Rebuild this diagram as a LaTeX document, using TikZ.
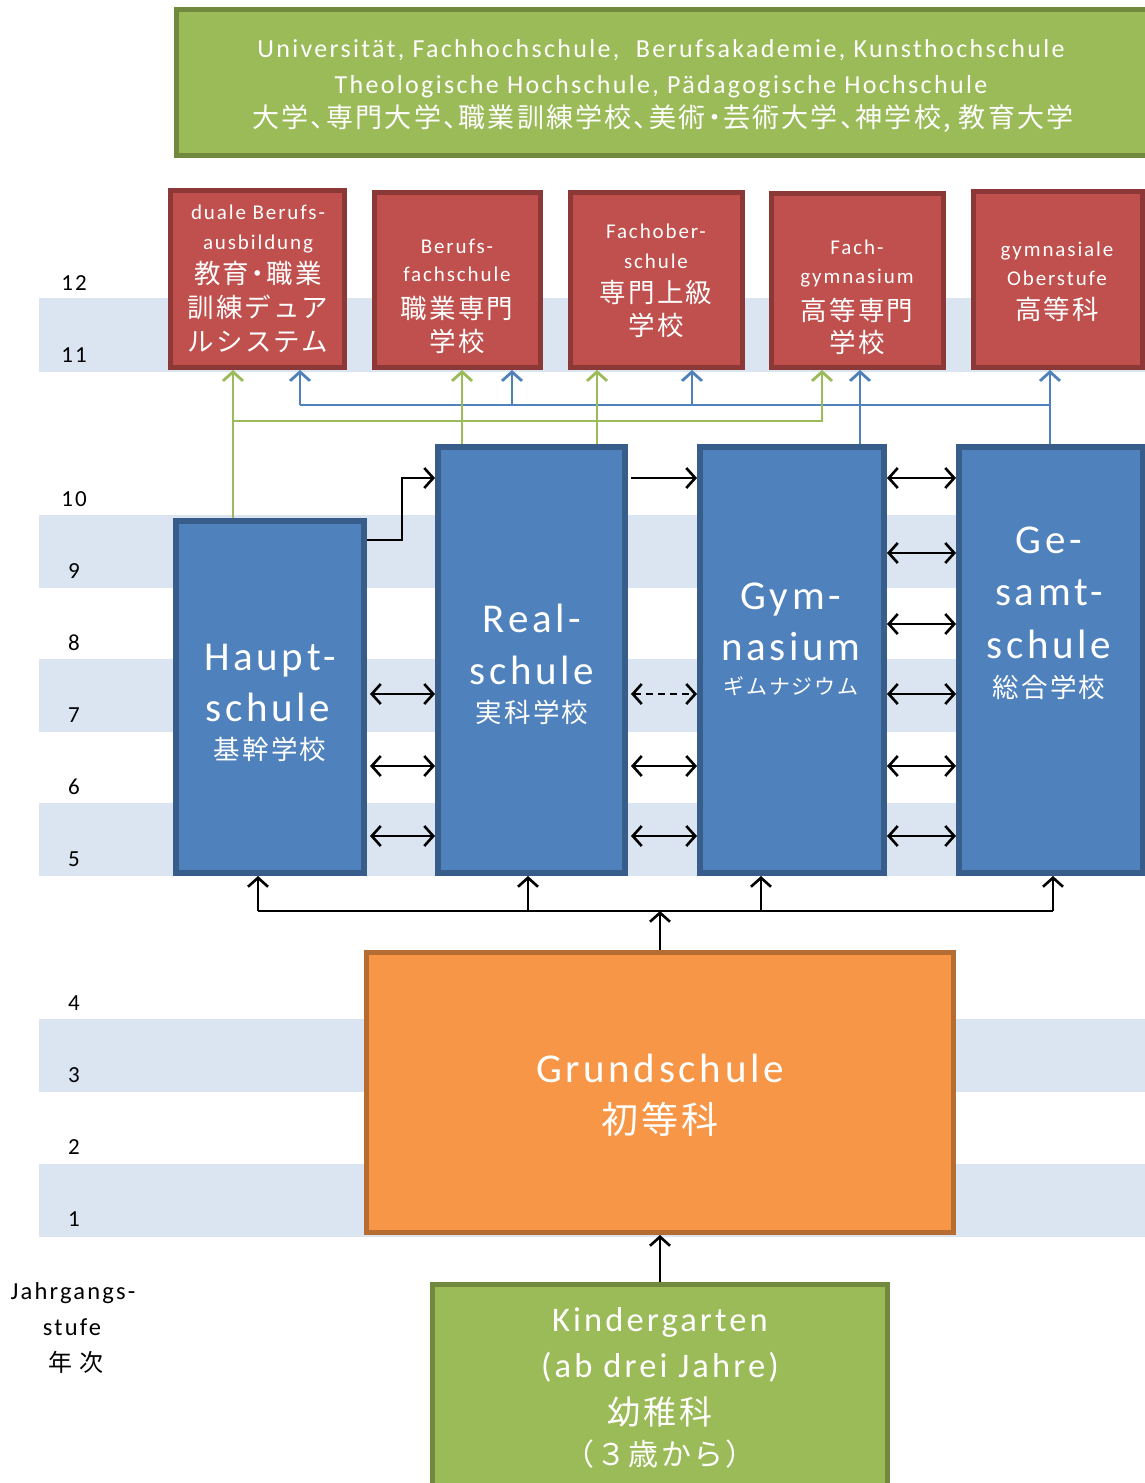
\documentclass[tikz,border=0pt]{standalone}
\usepackage{fontspec}
\setmainfont{Carlito}[LetterSpace=9]
\newfontfamily\jp{Noto Sans CJK JP}[LetterSpace=8]
\newfontfamily\jph{Noto Sans CJK JP}[LetterSpace=8,RawFeature={+halt}]
\usetikzlibrary{arrows.meta}
\definecolor{stripe}{HTML}{DBE5F1}
\definecolor{gfill}{HTML}{9BBB59}
\definecolor{gdraw}{HTML}{71893F}
\definecolor{rfill}{HTML}{C0504D}
\definecolor{rdraw}{HTML}{8C3836}
\definecolor{bfill}{HTML}{4F81BD}
\definecolor{bdraw}{HTML}{385D8A}
\definecolor{ofill}{HTML}{F79646}
\definecolor{odraw}{HTML}{B66D31}
\newcommand{\fsz}[1]{\fontsize{#1}{#1}\selectfont}
\begin{document}
\begin{tikzpicture}[x=1pt,y=-1pt,
  gbox/.style={draw=gdraw,fill=gfill,line width=5pt,inner sep=0pt,rectangle},
  rbox/.style={draw=rdraw,fill=rfill,line width=5pt,inner sep=0pt,rectangle},
  bbox/.style={draw=bdraw,fill=bfill,line width=6pt,inner sep=0pt,rectangle},
  obox/.style={draw=odraw,fill=ofill,line width=5pt,inner sep=0pt,rectangle},
  wt/.style={text=white,anchor=base,inner sep=0pt},
  kt/.style={text=black,anchor=base,inner sep=0pt},
  arr/.style={-{Straight Barb[length=9pt,width=20pt]}},
  darr/.style={{Straight Barb[length=9pt,width=20pt]}-{Straight Barb[length=9pt,width=20pt]}},
  kline/.style={draw=black,line width=2.6pt},
  gline/.style={draw=gfill,line width=2.8pt},
  bline/.style={draw=bfill,line width=2.8pt}]
\clip (0,0) rectangle (1145,1483);
\fill[white] (0,0) rectangle (1145,1483);
% stripes
\foreach \a/\b in {298/372,515/588,659/732,803/876,1019/1092,1164/1237}
  \fill[stripe] (39,\a) rectangle (1145,\b);
% grade numbers
\foreach \n/\yy in {12/290,11/362,10/506,9/578,8/650,7/722,6/794,5/866,4/1010,3/1082,2/1154,1/1226}
  \node[kt,font=\fsz{23}] (g\n) at (74,\yy) {\n};
\node[kt,font=\fsz{24.5}] (jg1) at (73,1299) {Jahrgangs-};
\node[kt,font=\fsz{24.5}] (jg2) at (72,1335) {stufe};
\node[kt,font=\jp\fsz{24}] (jg3) at (76,1371) {年\hspace{8pt}次};
% top box
\node[gbox,minimum width=975,minimum height=146] (uni) at (663.5,82) {};
\node[wt,font=\fsz{26}] (u1) at (661,57) {Universität, Fachhochschule,\ \ Berufsakademie, Kunsthochschule};
\node[wt,font=\fsz{26}] (u2) at (661,93) {Theologische Hochschule,\ Pädagogische Hochschule};
\node[wt,font=\jph\fsz{27}] (u3) at (663,127) {大学、専門大学、職業訓練学校、美術・芸術大学、神学校, 教育大学};
% red boxes
\node[rbox,minimum width=174,minimum height=177] (r1) at (257.5,279) {};
\node[rbox,minimum width=166,minimum height=175] (r2) at (457.5,280) {};
\node[rbox,minimum width=172,minimum height=175] (r3) at (656.5,280) {};
\node[rbox,minimum width=172,minimum height=174] (r4) at (857.5,280.5) {};
\node[rbox,minimum width=169,minimum height=176] (r5) at (1058,279.5) {};
\node[wt,font=\fsz{21}] (r1a) at (258,219) {duale Berufs-};
\node[wt,font=\fsz{21}] (r1b) at (258,249) {ausbildung};
\node[wt,font=\jph\fsz{26.5}] (r1c) at (258,283) {教育・職業};
\node[wt,font=\jp\fsz{26.5}] (r1d) at (258,317) {訓練デュア};
\node[wt,font=\jp\fsz{26.5}] (r1e) at (258,351) {ルシステム};
\node[wt,font=\fsz{21}] (r2a) at (457,253) {Berufs-};
\node[wt,font=\fsz{21}] (r2b) at (457,281) {fachschule};
\node[wt,font=\jp\fsz{26.5}] (r2c) at (457,318) {職業専門};
\node[wt,font=\jp\fsz{26.5}] (r2d) at (457,351) {学校};
\node[wt,font=\fsz{21}] (r3a) at (656,238) {Fachober-};
\node[wt,font=\fsz{21}] (r3b) at (656,268) {schule};
\node[wt,font=\jp\fsz{26.5}] (r3c) at (656,302) {専門上級};
\node[wt,font=\jp\fsz{26.5}] (r3d) at (656,335) {学校};
\node[wt,font=\fsz{21}] (r4a) at (857,254) {Fach-};
\node[wt,font=\fsz{21}] (r4b) at (857,283) {gymnasium};
\node[wt,font=\jp\fsz{26.5}] (r4c) at (857,320) {高等専門};
\node[wt,font=\jp\fsz{26.5}] (r4d) at (857,352) {学校};
\node[wt,font=\fsz{21}] (r5a) at (1057,256) {gymnasiale};
\node[wt,font=\fsz{21}] (r5b) at (1057,285) {Oberstufe};
\node[wt,font=\jp\fsz{26.5}] (r5c) at (1057,319) {高等科};
% blue boxes
\node[bbox,minimum width=188,minimum height=352] (haupt) at (270,697) {};
\node[bbox,minimum width=187,minimum height=426] (real) at (531.5,660) {};
\node[bbox,minimum width=184,minimum height=426] (gym) at (792,660) {};
\node[bbox,minimum width=184,minimum height=426] (gesamt) at (1051,660) {};
\node[wt,font=\fsz{41}] (h1) at (270,670) {Haupt-};
\node[wt,font=\fsz{41}] (h2) at (268,721) {schule};
\node[wt,font=\jp\fsz{26.5}] (h3) at (270,759) {基幹学校};
\node[wt,font=\fsz{41}] (re1) at (532,632) {Real-};
\node[wt,font=\fsz{41}] (re2) at (532,684) {schule};
\node[wt,font=\jp\fsz{26.5}] (re3) at (532,722) {実科学校};
\node[wt,font=\fsz{41}] (gy1) at (791,609) {Gym-};
\node[wt,font=\fsz{41}] (gy2) at (791,660) {nasium};
\node[wt,font=\jp\fsz{21}] (gy3) at (791,694) {ギムナジウム};
\node[wt,font=\fsz{41}] (ge1) at (1049,553) {Ge-};
\node[wt,font=\fsz{41}] (ge2) at (1049,605) {samt-};
\node[wt,font=\fsz{41}] (ge3) at (1049,658) {schule};
\node[wt,font=\jp\fsz{26.5}] (ge4) at (1049,697) {総合学校};
% orange and kindergarten
\node[obox,minimum width=587,minimum height=280] (grund) at (660,1092.5) {};
\node[wt,font=\fsz{41}] (gr1) at (660,1082) {Grundschule};
\node[wt,font=\jp\fsz{37}] (gr2) at (660,1133) {初等科};
\node[gbox,minimum width=455,minimum height=213] (kinder) at (660,1391) {};
\node[wt,font=\fsz{34.5}] (k1) at (660,1331) {Kindergarten};
\node[wt,font=\fsz{34.5}] (k2) at (660,1377) {(ab drei Jahre)};
\node[wt,font=\jp\fsz{33}] (k3) at (660,1424) {幼稚科};
\node[wt,font=\jp\fsz{30}] (k4) at (660,1465) {（３歳から）};
% coordinates
\coordinate (ga) at (233,421);
\coordinate (gb) at (462,421);
\coordinate (gc) at (597,421);
\coordinate (gd) at (822,421);
\coordinate (ba) at (300,405);
\coordinate (bb) at (512,405);
\coordinate (bc) at (692,405);
\coordinate (bd) at (860,405);
\coordinate (be) at (1050,405);
\coordinate (ka) at (402,540);
\coordinate (kb) at (402,478);
\coordinate (ta) at (258,911);
\coordinate (tb) at (528,911);
\coordinate (tc) at (761,911);
\coordinate (td) at (1053,911);
% blue connectors
\draw[bline] (ba) -- (be);
\draw[bline,arr] (ba) -- (r1.south -| ba);
\draw[bline,arr] (bb) -- (r2.south -| bb);
\draw[bline,arr] (bc) -- (r3.south -| bc);
\draw[bline,arr] (gym.north -| bd) -- (r4.south -| bd);
\draw[bline,arr] (gesamt.north -| be) -- (r5.south -| be);
% green connectors
\draw[gline,arr] (haupt.north -| ga) -- (r1.south -| ga);
\draw[gline,arr] (ga) -- (gd) -- (r4.south -| gd);
\draw[gline,arr] (real.north -| gb) -- (r2.south -| gb);
\draw[gline,arr] (real.north -| gc) -- (r3.south -| gc);
% black connectors
\draw[kline,arr] (haupt.east |- ka) -- (ka) -- (kb) -- (real.west |- kb);
\draw[kline,arr] ([xshift=3]real.east |- kb) -- (gym.west |- kb);
\foreach \yy in {694,766,836}
  \draw[kline,darr] ([xshift=3]haupt.east |- 0,\yy) -- (real.west |- 0,\yy);
\draw[kline,darr,dash pattern=on 7pt off 5pt] ([xshift=3]real.east |- 0,694) -- (gym.west |- 0,694);
\foreach \yy in {766,836}
  \draw[kline,darr] ([xshift=3]real.east |- 0,\yy) -- (gym.west |- 0,\yy);
\foreach \yy in {478,553,624,694,766,836}
  \draw[kline,darr] (gym.east |- 0,\yy) -- (gesamt.west |- 0,\yy);
\draw[kline] (ta) -- (td);
\draw[kline,arr] (ta) -- (haupt.south -| ta);
\draw[kline,arr] (tb) -- (real.south -| tb);
\draw[kline,arr] (tc) -- (gym.south -| tc);
\draw[kline,arr] (td) -- (gesamt.south -| td);
\draw[kline,arr] (grund.north) -- (grund.north |- ta);
\draw[kline,arr] (kinder.north) -- (grund.south);
\end{tikzpicture}
\end{document}
